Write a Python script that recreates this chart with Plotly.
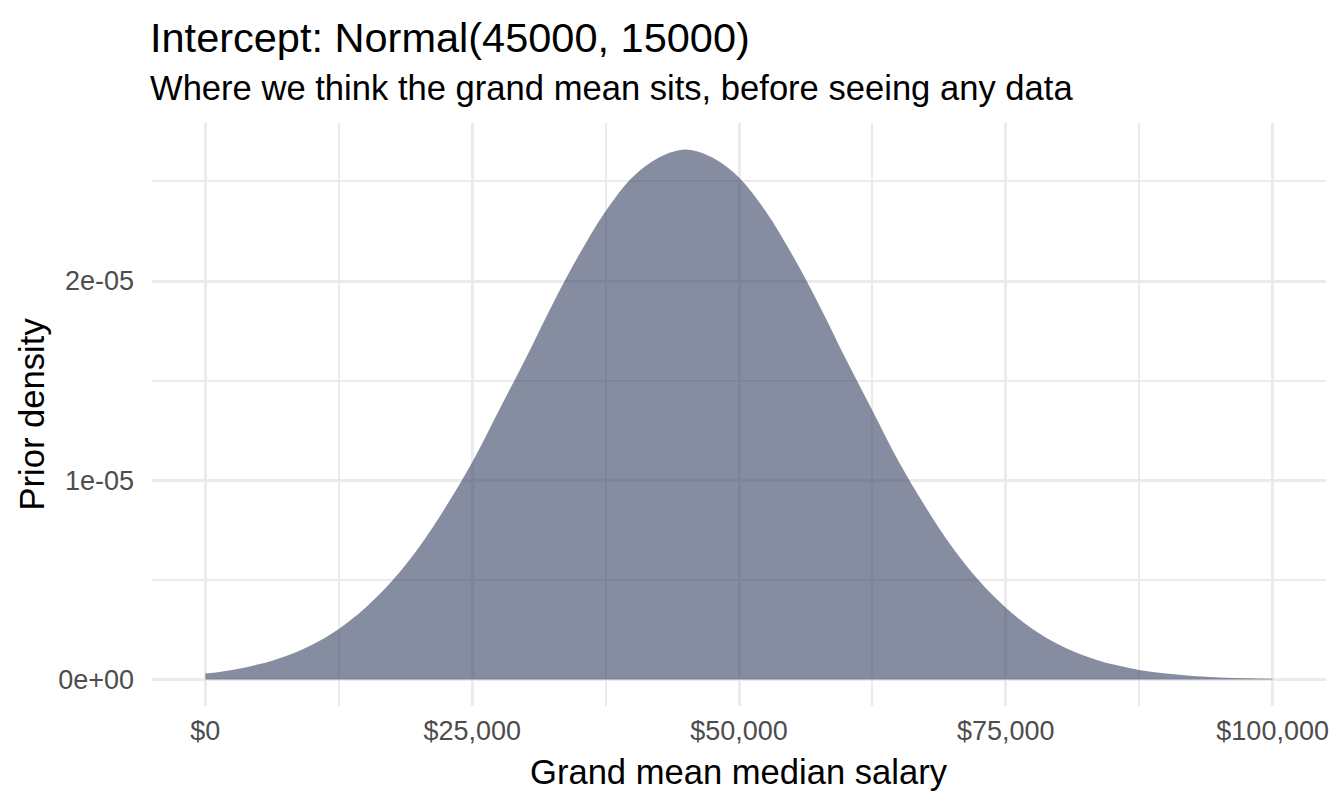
import plotly.graph_objects as go

# values (salary in $, prior density)
salary = [0, 2500, 5000, 7500, 10000, 12500, 15000, 17500, 20000, 22500,
          25000, 27500, 30000, 32500, 35000, 37500, 40000, 42500, 45000,
          47500, 50000, 52500, 55000, 57500, 60000, 62500, 65000, 67500,
          70000, 72500, 75000, 77500, 80000, 82500, 85000, 87500, 90000,
          92500, 95000, 97500, 100000]
density = [2.95e-7, 4.8e-7, 7.6e-7, 1.17e-6, 1.75e-6, 2.54e-6, 3.6e-6, 4.95e-6,
           6.63e-6, 8.64e-6, 1.09e-5, 1.35e-5, 1.61e-5, 1.88e-5, 2.13e-5,
           2.35e-5, 2.52e-5, 2.62e-5, 2.66e-5, 2.62e-5, 2.52e-5, 2.35e-5,
           2.13e-5, 1.88e-5, 1.61e-5, 1.35e-5, 1.09e-5, 8.64e-6, 6.63e-6,
           4.95e-6, 3.6e-6, 2.54e-6, 1.75e-6, 1.17e-6, 7.6e-7, 4.8e-7,
           2.95e-7, 1.77e-7, 1.03e-7, 5.8e-8, 3.2e-8]

x_ticks = [0, 25000, 50000, 75000, 100000]
x_labels = ["$0", "$25,000", "$50,000", "$75,000", "$100,000"]
x_minor = [12500, 37500, 62500, 87500]
y_ticks = [0, 1e-5, 2e-5]
y_labels = ["0e+00", "1e-05", "2e-05"]
y_minor = [5e-6, 1.5e-5, 2.5e-5]

FONT = "Liberation Sans, Arial, Helvetica, sans-serif"
GRID = "#ebebeb"

fig = go.Figure()
fig.add_trace(go.Scatter(
    x=salary, y=density, mode="lines", fill="tozeroy",
    line=dict(width=0, shape="spline", color="rgba(55,65,97,0)"),
    fillcolor="rgba(55,65,97,0.6)", hoverinfo="skip", showlegend=False))

# the page puts the plot 8px in from the top left corner, so the figure is 8px smaller
fig.update_layout(
    width=1336, height=798,
    margin=dict(l=144, r=18, t=115, b=100),
    paper_bgcolor="white", plot_bgcolor="white",
    font=dict(family=FONT, color="black"),
    showlegend=False,
    xaxis=dict(range=[-5000, 105000], tickvals=x_ticks, ticktext=x_labels,
               showgrid=True, gridcolor=GRID, gridwidth=3, zeroline=False,
               showline=False, ticks="", ticklabelstandoff=6,
               tickfont=dict(size=27, color="#4d4d4d", family=FONT),
               minor=dict(tickvals=x_minor, showgrid=True, gridcolor=GRID,
                          gridwidth=1.5, ticks="")),
    yaxis=dict(range=[-1.33e-6, 2.793e-5], tickvals=y_ticks, ticktext=y_labels,
               showgrid=True, gridcolor=GRID, gridwidth=3, zeroline=False,
               showline=False, ticks="", ticklabelstandoff=17,
               tickfont=dict(size=27, color="#4d4d4d", family=FONT),
               minor=dict(tickvals=y_minor, showgrid=True, gridcolor=GRID,
                          gridwidth=1.5, ticks="")),
)

H = 583.0  # plot height in px, used to place texts in paper units
W = 1174.0
fig.add_annotation(text="Intercept: Normal(45000, 15000)", xref="paper", yref="paper",
                   x=-4 / W, y=(706 - 37) / H, xanchor="left", yanchor="middle",
                   showarrow=False, font=dict(size=41.5, family=FONT, color="black"))
fig.add_annotation(text="Where we think the grand mean sits, before seeing any data",
                   xref="paper", yref="paper", x=-4 / W, y=(706 - 88) / H,
                   xanchor="left", yanchor="middle", showarrow=False,
                   font=dict(size=34.6, family=FONT, color="black"))
fig.add_annotation(text="Grand mean median salary", xref="paper", yref="paper",
                   x=0.5, y=(706 - 772) / H, xanchor="center", yanchor="middle",
                   showarrow=False, font=dict(size=34.6, family=FONT, color="black"))
fig.add_annotation(text="Prior density", xref="paper", yref="paper",
                   x=(31 - 152) / W, y=0.5, xanchor="center", yanchor="middle",
                   textangle=-90, showarrow=False,
                   font=dict(size=34.6, family=FONT, color="black"))

fig.write_html("out.html")
